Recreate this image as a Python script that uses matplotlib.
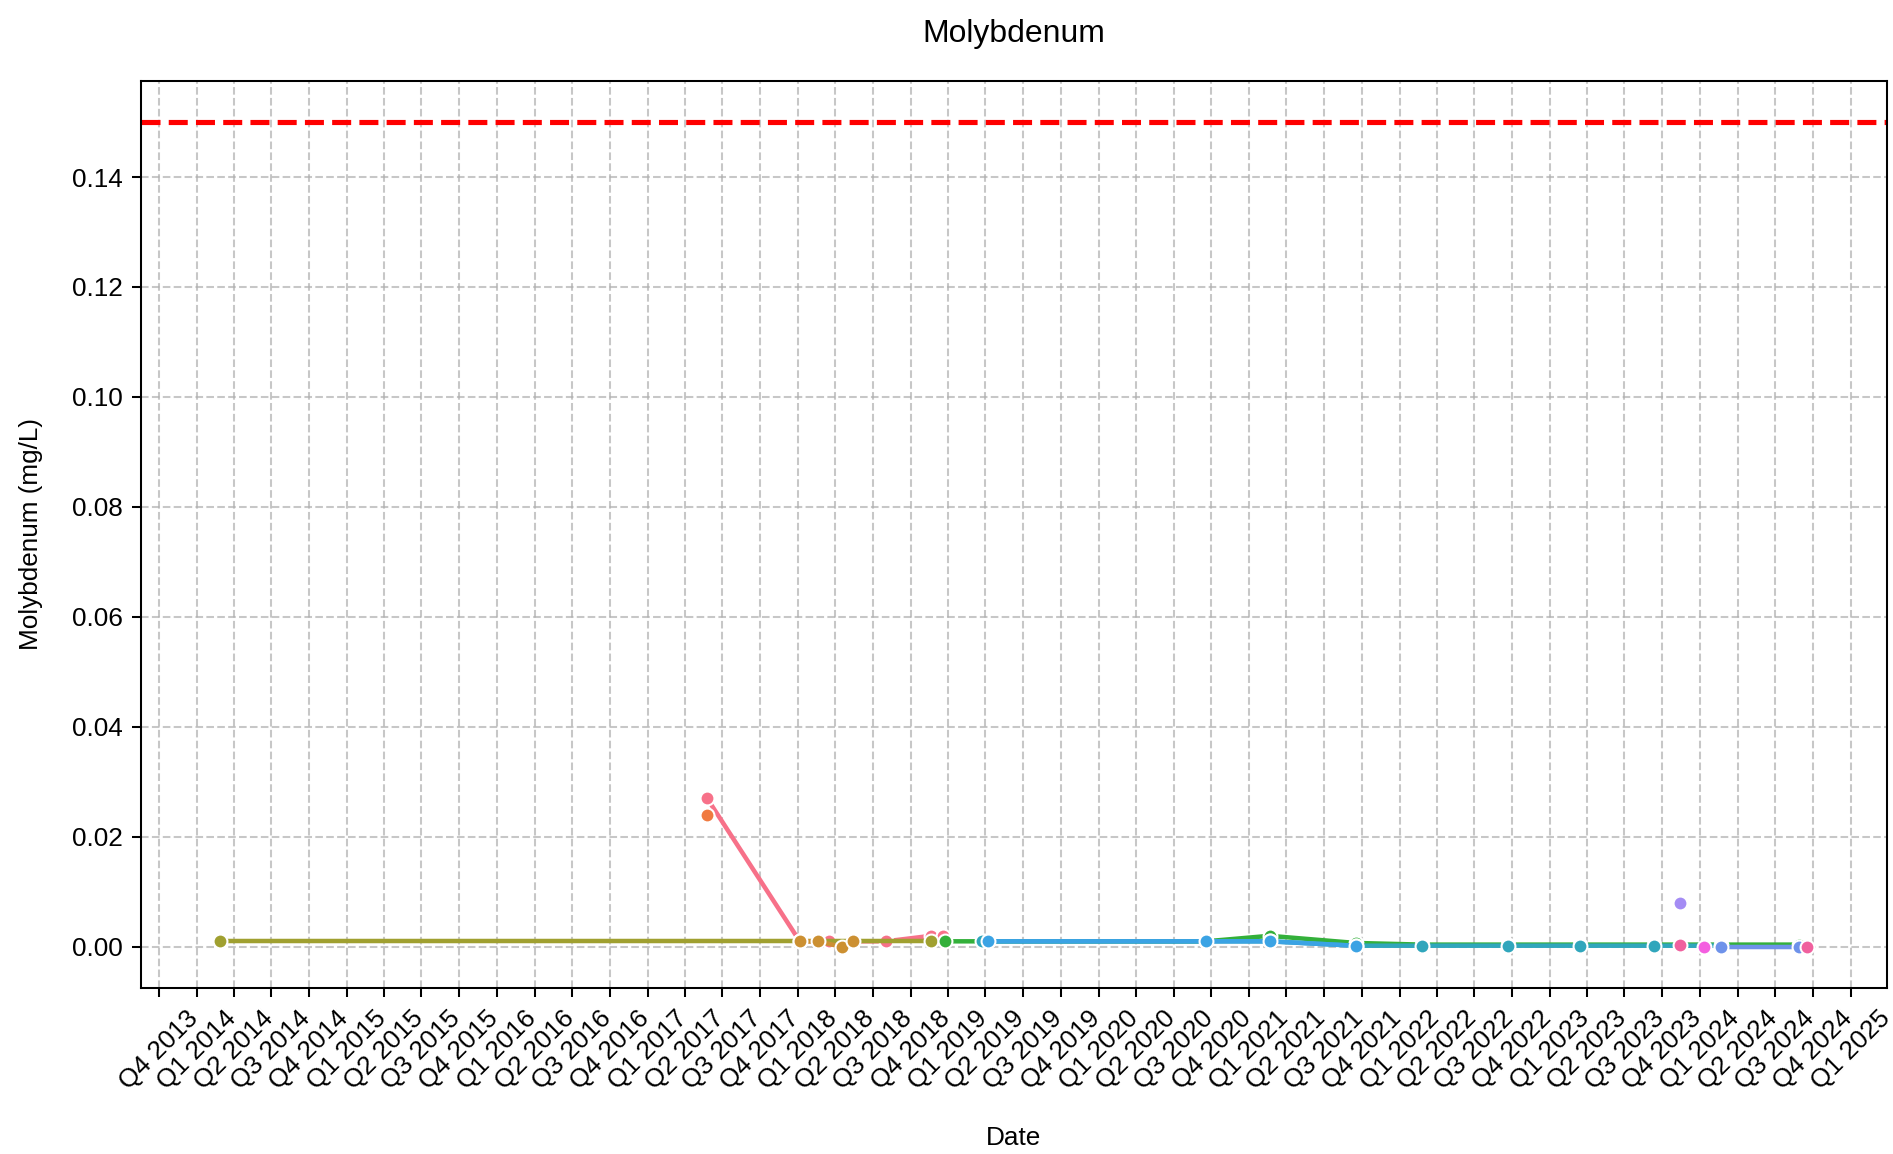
import matplotlib
matplotlib.use("Agg")
import matplotlib.pyplot as plt
import pandas as pd

plt.rcParams['font.family'] = ['Liberation Sans', 'DejaVu Sans']

# ---------------- data ----------------
title = "Molybdenum"
y_label = "Molybdenum (mg/L)"
x_label = "Date"
threshold = 0.15

pinkred_dates = ['2017-05-25', '2018-01-05', '2018-03-16', '2018-08-02', '2018-11-20', '2018-12-19']
pinkred_vals = [0.027, 0.001, 0.001, 0.001, 0.002, 0.002]

orange_dates = ['2017-05-25']
orange_vals = [0.024]

olive_dates = ['2014-02-28', '2018-01-05', '2018-11-20']
olive_vals = [0.001, 0.001, 0.001]

gold_dates = ['2018-01-05', '2018-02-18', '2018-04-17', '2018-05-15']
gold_vals = [0.001, 0.001, 0.0, 0.001]

green_dates = ['2018-12-24', '2019-04-06', '2020-09-18', '2021-02-19', '2021-09-16', '2022-02-24',
               '2022-09-22', '2023-03-15', '2023-09-11', '2024-02-21', '2024-08-27']
green_vals = [0.001, 0.001, 0.001, 0.002, 0.0007, 0.0004, 0.0004, 0.0004, 0.0004, 0.0004, 0.0004]

teal_dates = ['2019-03-24', '2020-09-18', '2021-02-19', '2021-09-16', '2022-02-24', '2022-09-22',
              '2023-03-15', '2023-09-11', '2024-02-21']
teal_vals = [0.001, 0.001, 0.001, 0.0002, 0.0002, 0.0002, 0.0002, 0.0002, 0.0002]

blue_dates = ['2019-04-06', '2020-09-18', '2021-02-19', '2021-09-16']
blue_vals = [0.001, 0.001, 0.001, 0.0002]

peri_dates = ['2024-02-21', '2024-08-27']
peri_vals = [0.0, 0.0]

purple_dates = ['2023-11-13']
purple_vals = [0.008]

magenta_dates = ['2024-01-09']
magenta_vals = [0.0]

pinka_dates = ['2023-11-13']
pinka_vals = [0.0003]

pinkb_dates = ['2024-09-17']
pinkb_vals = [0.0]

tick_start = '2013-10-01'
tick_end = '2025-01-01'

# ---------------- styles ----------------
series = [
    (pinkred_dates, pinkred_vals, '#f77189'),
    (orange_dates, orange_vals, '#f07a40'),
    (olive_dates, olive_vals, '#a0a030'),
    (gold_dates, gold_vals, '#cc9032'),
    (green_dates, green_vals, '#33b03a'),
    (teal_dates, teal_vals, '#30a6bc'),
    (blue_dates, blue_vals, '#3ba3e4'),
    (peri_dates, peri_vals, '#6e92ea'),
    (purple_dates, purple_vals, '#a48cf4'),
    (magenta_dates, magenta_vals, '#f45fe0'),
    (pinka_dates, pinka_vals, '#f0609e'),
    (pinkb_dates, pinkb_vals, '#f0609e'),
]

fig = plt.figure(figsize=(1894 / 185, 1154 / 185), dpi=185)
ax = fig.add_subplot(111)
fig.subplots_adjust(left=0.0745, right=0.9961, top=0.930, bottom=0.1438)

all_dates = []
for d, v, c in series:
    dd = pd.to_datetime(d)
    all_dates.extend(list(dd))
    ax.plot(dd, v, color=c, linewidth=1.75, marker='o', markersize=5.4,
            markeredgecolor='white', markeredgewidth=0.8, zorder=3)

ax.axhline(threshold, color='red', linestyle='--', linewidth=2, zorder=2)

tick_dates = pd.date_range(tick_start, tick_end, freq='QS')
tick_labels = [f"Q{d.quarter} {d.year}" for d in tick_dates]
ax.set_xticks(tick_dates)
ax.set_xticklabels(tick_labels, rotation=45, fontsize=10.2)

d0 = min(all_dates)
d1 = max(all_dates)
rng = d1 - d0
ax.set_xlim(d0 - rng * 0.05, d1 + rng * 0.05)

yt = [0.0, 0.02, 0.04, 0.06, 0.08, 0.10, 0.12, 0.14]
ax.set_yticks(yt)
ax.set_yticklabels([f"{t:.2f}" for t in yt], fontsize=10.2)
ax.set_ylim(-0.0075, 0.1575)

ax.grid(True, linestyle='--', alpha=0.7, linewidth=0.8)
ax.set_axisbelow(True)

ax.set_title(title, fontsize=12.4, pad=15)
ax.set_xlabel(x_label, fontsize=10.2, labelpad=12.5)
ax.set_ylabel(y_label, fontsize=10.2, labelpad=11.5)

fig.savefig("out.png", dpi=185)
